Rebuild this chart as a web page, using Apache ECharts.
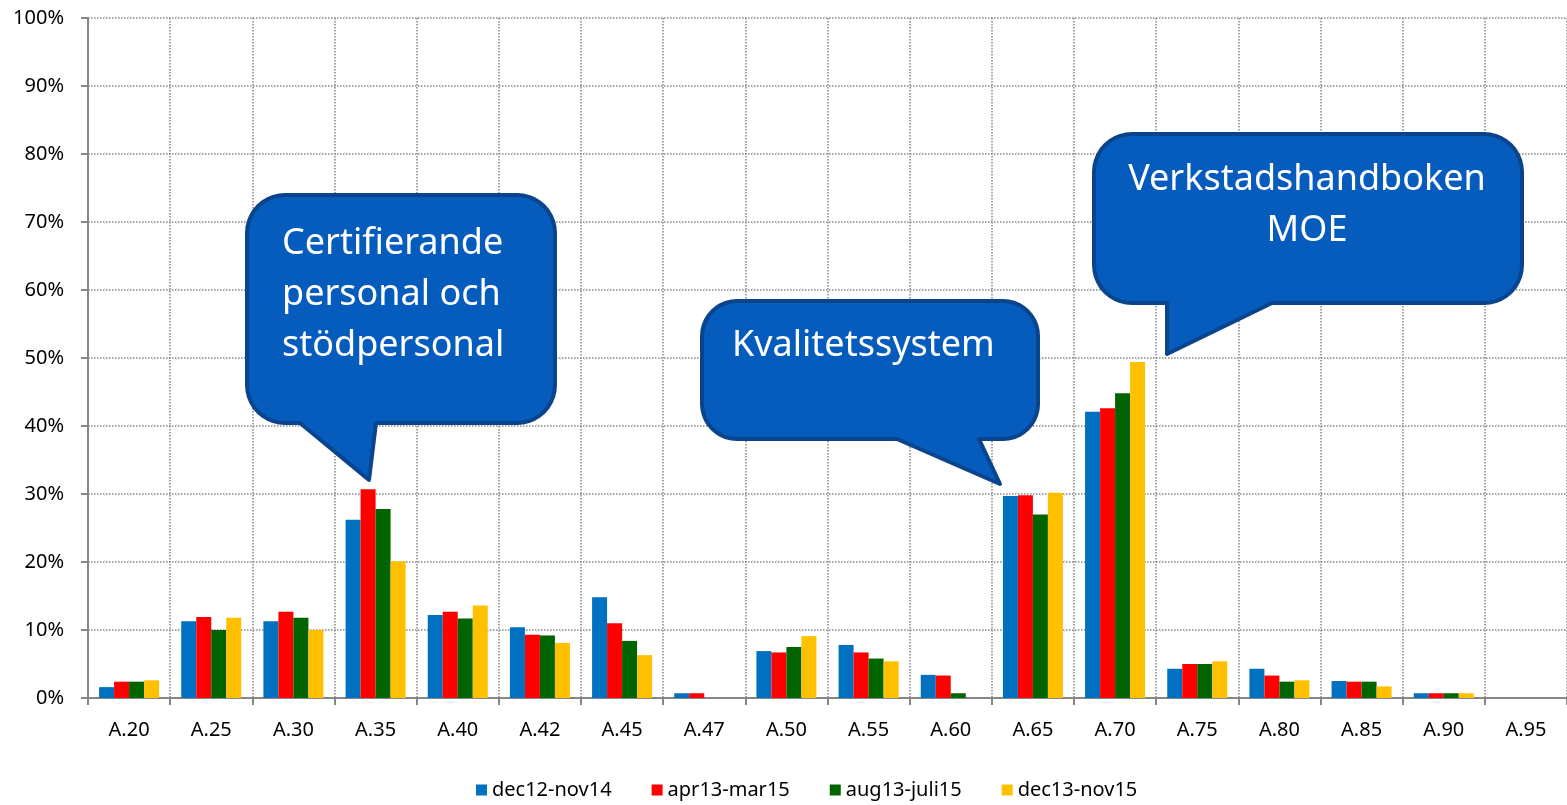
<!DOCTYPE html>
<html>
<head>
<meta charset="utf-8">
<script src="https://cdn.jsdelivr.net/npm/echarts@6/dist/echarts.min.js"></script>
<style>
html,body{margin:0;padding:0;background:#fff;}
#main{width:1567px;height:805px;}
</style>
</head>
<body>
<div id="main"></div>
<script>
var categories = ['A.20','A.25','A.30','A.35','A.40','A.42','A.45','A.47','A.50','A.55','A.60','A.65','A.70','A.75','A.80','A.85','A.90','A.95'];
var seriesNames = ['dec12-nov14','apr13-mar15','aug13-juli15','dec13-nov15'];
var dec12nov14  = [1.6, 11.3, 11.3, 26.2, 12.2, 10.4, 14.8, 0.7, 6.9, 7.8, 3.4, 29.7, 42.1, 4.3, 4.3, 2.5, 0.7, 0];
var apr13mar15  = [2.4, 11.9, 12.7, 30.7, 12.7, 9.3, 11.0, 0.7, 6.7, 6.7, 3.3, 29.8, 42.6, 5.0, 3.3, 2.4, 0.7, 0];
var aug13juli15 = [2.4, 10.0, 11.8, 27.8, 11.7, 9.2, 8.4, 0, 7.5, 5.8, 0.7, 27.0, 44.8, 5.0, 2.4, 2.4, 0.7, 0];
var dec13nov15  = [2.6, 11.8, 10.0, 20.1, 13.6, 8.1, 6.3, 0, 9.1, 5.4, 0, 30.2, 49.4, 5.4, 2.6, 1.7, 0.7, 0];
var yTicks = [0,10,20,30,40,50,60,70,80,90,100];
var colors = ['#0070C0','#FF0000','#006400','#FFC000'];
var values = [dec12nov14, apr13mar15, aug13juli15, dec13nov15];

var FONT = '"Noto Sans", sans-serif';
var fill = '#055CBD', stroke = '#0A448C';

function arcPts(cx, cy, r, a0, a1) {
  var pts = [], n = 10;
  for (var k = 0; k <= n; k++) {
    var a = a0 + (a1 - a0) * k / n;
    pts.push([cx + r * Math.cos(a), cy + r * Math.sin(a)]);
  }
  return pts;
}
function bubble(L, R, T, B, r, tail) {
  var P = Math.PI, pts = [];
  pts = pts.concat(arcPts(R - r, T + r, r, -P / 2, 0));
  pts = pts.concat(arcPts(R - r, B - r, r, 0, P / 2));
  tail.forEach(function (pt) { pts.push(pt); });
  pts = pts.concat(arcPts(L + r, B - r, r, P / 2, P));
  pts = pts.concat(arcPts(L + r, T + r, r, P, 1.5 * P));
  return {
    type: 'polygon', z: 100,
    shape: { points: pts },
    style: { fill: fill, stroke: stroke, lineWidth: 4, lineJoin: 'round' }
  };
}
function label(text, x, y, align) {
  return {
    type: 'text', z: 101, x: x, y: y,
    style: { text: text, fill: '#fff', font: '36px ' + FONT, align: align, verticalAlign: 'middle' }
  };
}

var chart = echarts.init(document.getElementById('main'));
chart.setOption({
  animation: false,
  backgroundColor: '#fff',
  color: colors,
  grid: { left: 88, right: 0, top: 18, bottom: 107, containLabel: false },
  legend: {
    data: seriesNames,
    left: 476, top: 780,
    padding: 0,
    itemWidth: 11, itemHeight: 11, itemGap: 40,
    icon: 'rect',
    textStyle: { fontFamily: FONT, fontSize: 20, color: '#000' }
  },
  xAxis: {
    type: 'category',
    data: categories,
    boundaryGap: true,
    axisLine: { lineStyle: { color: '#868686', width: 2 } },
    axisTick: { show: true, alignWithLabel: false, length: 7, lineStyle: { color: '#868686', width: 2 } },
    axisLabel: { fontFamily: FONT, fontSize: 20, color: '#000', margin: 22, interval: 0 },
    splitLine: { show: true, interval: 0, lineStyle: { color: '#888888', width: 1.5, type: [1.5, 1.5] } }
  },
  yAxis: {
    type: 'value',
    min: 0, max: 100, interval: 10,
    axisLine: { show: true, lineStyle: { color: '#868686', width: 2 } },
    axisTick: { show: true, length: 7, lineStyle: { color: '#868686', width: 2 } },
    axisLabel: {
      fontFamily: FONT, fontSize: 20, color: '#000', margin: 24,
      formatter: function (v) { return yTicks.indexOf(v) >= 0 ? v + '%' : ''; }
    },
    splitLine: { show: true, lineStyle: { color: '#888888', width: 1.5, type: [1.5, 1.5] } }
  },
  series: seriesNames.map(function (n, i) {
    return {
      name: n, type: 'bar', data: values[i],
      barWidth: 15, barGap: '0%',
      itemStyle: { color: colors[i] }
    };
  }),
  graphic: [
    bubble(247, 555, 195, 423, 38, [[376, 423], [369, 480], [300, 423]]),
    label('Certifierande', 282, 244, 'left'),
    label('personal och', 282, 295, 'left'),
    label('stödpersonal', 282, 346, 'left'),
    bubble(702, 1038, 301, 439, 35, [[979, 439], [1000, 484], [897, 439]]),
    label('Kvalitetssystem', 732, 346, 'left'),
    bubble(1094, 1522, 134, 303, 38, [[1272, 303], [1167, 354], [1167, 303]]),
    label('Verkstadshandboken', 1307, 180, 'center'),
    label('MOE', 1307, 231, 'center')
  ]
});
</script>
</body>
</html>
